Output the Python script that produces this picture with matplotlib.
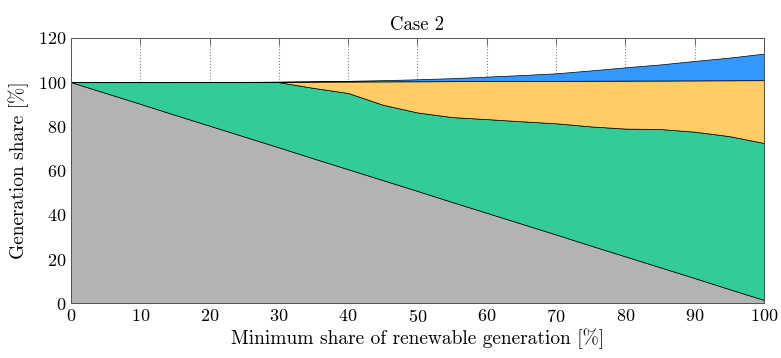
import numpy as np
import matplotlib
matplotlib.use('Agg')
import matplotlib.pyplot as plt

plt.rcParams['font.family'] = ['cmr10', 'DejaVu Serif']
plt.rcParams['axes.formatter.use_mathtext'] = True
plt.rcParams['mathtext.fontset'] = 'cm'

# x axis: minimum renewable share
renewable_min = [0, 5, 10, 15, 20, 25, 30, 35, 40, 45, 50,
                 55, 60, 65, 70, 75, 80, 85, 90, 95, 100]

# cumulative tops of each stacked layer [%]
gray_top = [100, 95.1, 90.2, 85.2, 80.3, 75.4, 70.5, 65.5, 60.6, 55.7, 50.8,
            45.8, 40.9, 36.0, 31.1, 26.1, 21.2, 16.3, 11.4, 6.4, 1.5]
green_top = [100, 100, 100, 100, 100, 100, 100, 97.4, 95.1, 89.8, 86.3,
             84.2, 83.3, 82.3, 81.4, 80.0, 79.0, 78.8, 77.6, 75.6, 72.5]
yellow_top = [100, 100, 100, 100, 100.05, 100.1, 100.15, 100.25, 100.3, 100.35, 100.4,
              100.45, 100.5, 100.55, 100.6, 100.65, 100.7, 100.75, 100.8, 100.85, 100.9]
blue_top = [100, 100, 100, 100, 100.1, 100.15, 100.25, 100.4, 100.6, 100.9, 101.3,
            101.8, 102.5, 103.2, 104.0, 105.3, 106.7, 108.0, 109.6, 111.1, 112.9]

colors = ['#b3b3b3', '#33cc99', '#ffcc66', '#3399ff']

fig, ax = plt.subplots(figsize=(7.81, 3.58), dpi=100)
fig.subplots_adjust(left=0.091, right=0.978, top=0.894, bottom=0.153)

x = np.array(renewable_min)
layers = [np.zeros(len(x)), np.array(gray_top), np.array(green_top),
          np.array(yellow_top), np.array(blue_top)]
for i in range(4):
    ax.fill_between(x, layers[i], layers[i + 1], facecolor=colors[i],
                    edgecolor='black', linewidth=0.5, zorder=2)

ax.set_xlim(0, 100)
ax.set_ylim(0, 120)
ax.set_xticks(np.arange(0, 101, 10))
ax.set_yticks(np.arange(0, 121, 20))
ax.xaxis.grid(True, linestyle=':', color='#888888', linewidth=0.8, zorder=0)
ax.set_axisbelow(True)
ax.tick_params(direction='in', top=True, right=True, labelsize=13,
               color='#555555', length=5, width=0.6)
for s in ax.spines.values():
    s.set_color('#555555')
    s.set_linewidth(0.7)

ax.set_title('Case 2', fontsize=13.5)
ax.set_xlabel('Minimum share of renewable generation [%]', fontsize=14, labelpad=2)
ax.set_ylabel('Generation share [%]', fontsize=14, labelpad=6)

fig.savefig('out.png', dpi=100)
